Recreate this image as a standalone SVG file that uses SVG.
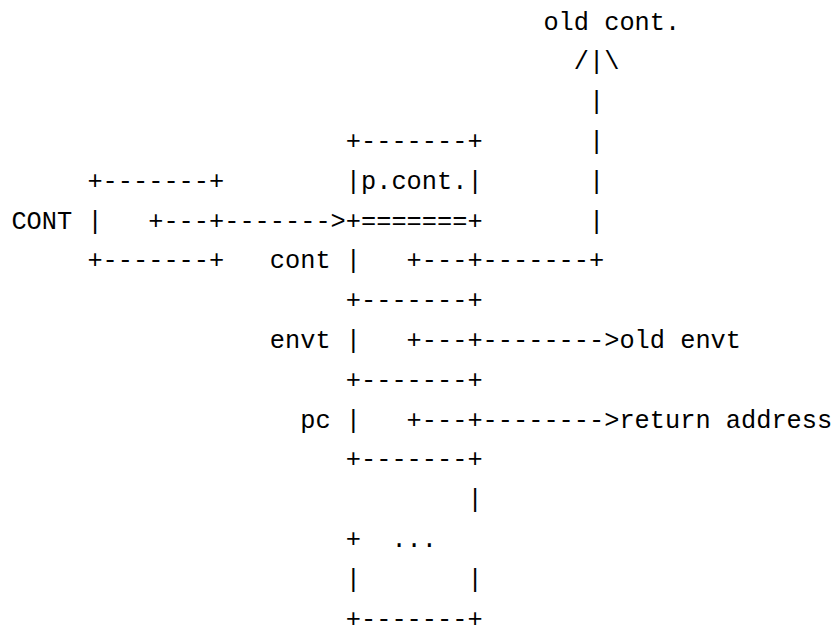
<svg xmlns="http://www.w3.org/2000/svg" width="838" height="627" viewBox="0 0 838 627" xml:space="preserve">
<style>
text { font-family: "Liberation Mono", "DejaVu Sans Mono", monospace; font-size: 25.333px; fill: #000; white-space: pre; }
</style>
<rect width="838" height="627" fill="#fff"/>
<g id="old-cont">
<text x="543.4" y="29.5">old cont.</text>
</g>
<g id="cont-register">
<text x="87.4" y="188.7">+-------+</text>
<text x="11.4" y="228.5">CONT |</text>
<text x="87.4" y="268.3">+-------+</text>
</g>
<g id="frame">
<text x="345.8" y="148.9">+-------+</text>
<text x="345.8" y="188.7">|p.cont.|</text>
<text x="345.8" y="228.5">+=======+</text>
<text x="269.8" y="268.3">cont |</text>
<text x="345.8" y="308.1">+-------+</text>
<text x="269.8" y="347.9">envt |</text>
<text x="345.8" y="387.7">+-------+</text>
<text x="300.2" y="427.5">pc |</text>
<text x="345.8" y="467.3">+-------+</text>
<text x="467.4" y="507.1">|</text>
<text x="345.8" y="546.9">+  ...</text>
<text x="345.8" y="586.7">|       |</text>
<text x="345.8" y="626.5">+-------+</text>
</g>
<g id="old-envt">
<text x="619.4" y="347.9">old envt</text>
</g>
<g id="return-address">
<text x="619.4" y="427.5">return address</text>
</g>
<g id="connectors">
<text x="148.2" y="228.5">+---+-------></text>
<text x="406.6" y="268.3">+---+-------+</text>
<text x="589" y="228.5">|</text>
<text x="589" y="188.7">|</text>
<text x="589" y="148.9">|</text>
<text x="589" y="109.1">|</text>
<text x="573.8" y="69.3">/|\</text>
<text x="406.6" y="347.9">+---+--------></text>
<text x="406.6" y="427.5">+---+--------></text>
</g>
</svg>
